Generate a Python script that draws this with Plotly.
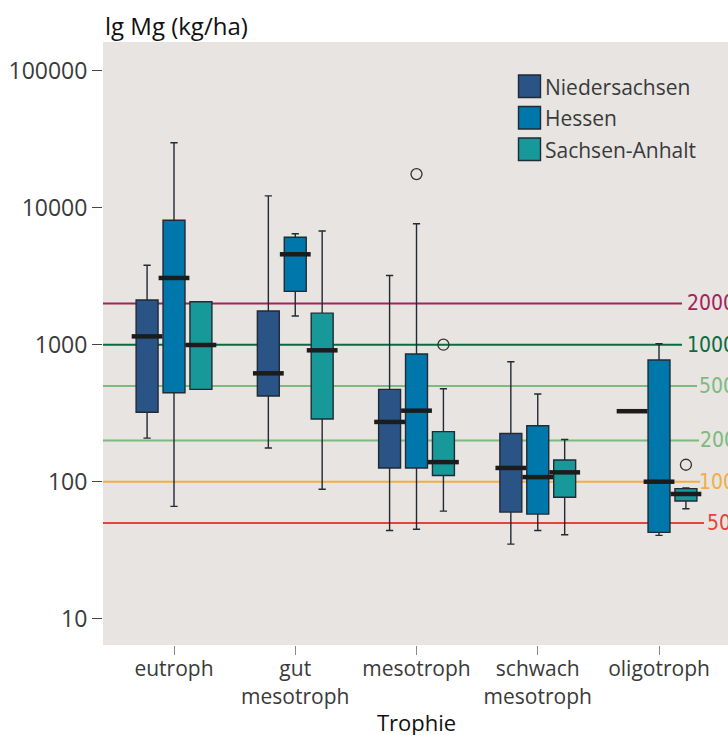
import math
import plotly.graph_objects as go

# ---------------- data ----------------
categories = ["eutroph", "gut<br>mesotroph", "mesotroph", "schwach<br>mesotroph", "oligotroph"]
states = ["Niedersachsen", "Hessen", "Sachsen-Anhalt"]

# Niedersachsen
ns_low = [208, 176, 44, 35, 327]
ns_q1 = [321, 422, 126, 60, 327]
ns_med = [1150, 618, 273, 126, 327]
ns_q3 = [2120, 1760, 472, 225, 327]
ns_high = [3800, 12200, 3200, 750, 327]

# Hessen
he_low = [66, 1620, 45, 44, 40.6]
he_q1 = [446, 2450, 126, 58, 42.7]
he_med = [3070, 4570, 330, 108, 100]
he_q3 = [8090, 6080, 855, 256, 773]
he_high = [29800, 6450, 7640, 437, 1016]

# Sachsen-Anhalt
sa_low = [472, 88, 61, 41, 63.5]
sa_q1 = [472, 287, 111, 77, 72.3]
sa_med = [995, 910, 139, 117, 81.3]
sa_q3 = [2060, 1700, 232, 144, 89]
sa_high = [2060, 6760, 477, 203, 90]

# outliers: (category index, state index, value)
out_cat = [2, 2, 4]
out_state = [1, 2, 2]
out_val = [17600, 1000, 133]

# reference thresholds
thresholds = [2000, 1000, 500, 200, 100, 50]
threshold_labels = ["2000", "1000", "500", "200", "100", "50"]

ytick_vals = [10, 100, 1000, 10000, 100000]
ytick_text = ["10", "100", "1000", "10000", "100000"]

# ---------------- styles ----------------
colors = ["#2A5386", "#0077AA", "#17999A"]
thr_colors = ["#A3235A", "#0B6B40", "#7DBA7F", "#7DBA7F", "#F2AE45", "#E2453E"]
thr_line_end_px = [682, 682, 697, 699, 700, 704]
thr_label_start_px = [688, 688, 700, 701, 700, 708]
FONT = "Open Sans, Noto Sans, sans-serif"
NARROW = "Liberation Sans Narrow, DejaVu Sans Condensed, Open Sans, sans-serif"

W, H = 728, 735
L, R, T, B = 103, 728, 42, 645
def px_x(p):
    return (p - L) / (R - L)
def px_y(p):
    return (B - p) / (B - T)

offsets = [-0.222, 0.0, 0.222]
box_w = 0.181

stats = [
    (ns_low, ns_q1, ns_med, ns_q3, ns_high),
    (he_low, he_q1, he_med, he_q3, he_high),
    (sa_low, sa_q1, sa_med, sa_q3, sa_high),
]

fig = go.Figure()

# threshold lines
for v, c, xe in zip(thresholds, thr_colors, thr_line_end_px):
    fig.add_shape(type="line", xref="paper", yref="y", x0=0, x1=px_x(xe), y0=v, y1=v,
                  line=dict(color=c, width=2), layer="below")

for si, (lo, q1, med, q3, hi) in enumerate(stats):
    xs = [i + offsets[si] for i in range(len(categories))]
    fig.add_trace(go.Box(
        x=xs, q1=q1, median=med, q3=q3, lowerfence=lo, upperfence=hi,
        width=box_w, whiskerwidth=0.33,
        fillcolor=colors[si], line=dict(color="#222A33", width=1.4),
        name=states[si], showlegend=False, boxpoints=False, hoverinfo="skip",
    ))
    fig.add_trace(go.Scatter(
        x=xs, y=med, mode="markers", showlegend=False, hoverinfo="skip",
        marker=dict(symbol="line-ew", size=22, line=dict(color="#1C1C1C", width=4.5)),
    ))

fig.add_trace(go.Scatter(
    x=[c + offsets[s] for c, s in zip(out_cat, out_state)], y=out_val,
    mode="markers", showlegend=False, hoverinfo="skip",
    marker=dict(symbol="circle-open", size=11, color="#333333", line=dict(width=1.3)),
))

# threshold labels (right, clipped by the edge as in reference)
for v, c, t, xs in zip(thresholds, thr_colors, threshold_labels, thr_label_start_px):
    fig.add_annotation(xref="paper", yref="y", x=px_x(xs), y=math.log10(v),
                       text=t, showarrow=False, xanchor="left", yanchor="middle",
                       xshift=-3, font=dict(family=NARROW, size=21, color=c))

# custom legend
leg_tops = [75, 106.5, 138]
for i, s in enumerate(states):
    fig.add_shape(type="rect", xref="paper", yref="paper",
                  x0=px_x(518.5), x1=px_x(540.5), y0=px_y(leg_tops[i] + 22.5), y1=px_y(leg_tops[i]),
                  fillcolor=colors[i], line=dict(color="#222A33", width=1.4))
    fig.add_annotation(xref="paper", yref="paper", x=px_x(543), y=px_y(leg_tops[i] + 11.5),
                       text=s, showarrow=False, xanchor="left", yanchor="middle",
                       font=dict(family=FONT, size=21, color="#3A3A3A"))

# axis titles
fig.add_annotation(xref="paper", yref="paper", x=0, y=px_y(25), text="lg Mg (kg/ha)",
                   showarrow=False, xanchor="left", yanchor="middle",
                   font=dict(family=FONT, size=24, color="#111111"))
fig.add_annotation(xref="x", yref="paper", x=2, y=px_y(722), text="Trophie",
                   showarrow=False, xanchor="center", yanchor="middle",
                   font=dict(family=FONT, size=22, color="#111111"))

fig.update_layout(
    width=W, height=H,
    margin=dict(l=L, r=W - R, t=T, b=H - B),
    paper_bgcolor="white", plot_bgcolor="#E7E4E2",
    boxmode="overlay", showlegend=False,
    font=dict(family=FONT, size=21, color="#3A3A3A"),
)
fig.update_xaxes(
    range=[-0.5856, 4.569], tickmode="array", tickvals=list(range(len(categories))),
    ticktext=categories, ticks="outside", ticklen=9, tickcolor="#888888", tickwidth=1.2,
    ticklabelstandoff=-4,
    showgrid=False, zeroline=False, showline=False,
    tickfont=dict(family=FONT, size=21, color="#3A3A3A"),
)
fig.update_yaxes(
    type="log", range=[0.808, 5.2095], tickmode="array", tickvals=ytick_vals, ticktext=ytick_text,
    ticks="outside", ticklen=10, tickcolor="#444444", tickwidth=1.2,
    showgrid=False, zeroline=False, showline=False,
    tickfont=dict(family=FONT, size=23, color="#3A3A3A"),
)

fig.write_html("out.html", config={"displayModeBar": False},
               post_script="document.body.style.margin='0px';document.body.style.overflow='hidden';")
